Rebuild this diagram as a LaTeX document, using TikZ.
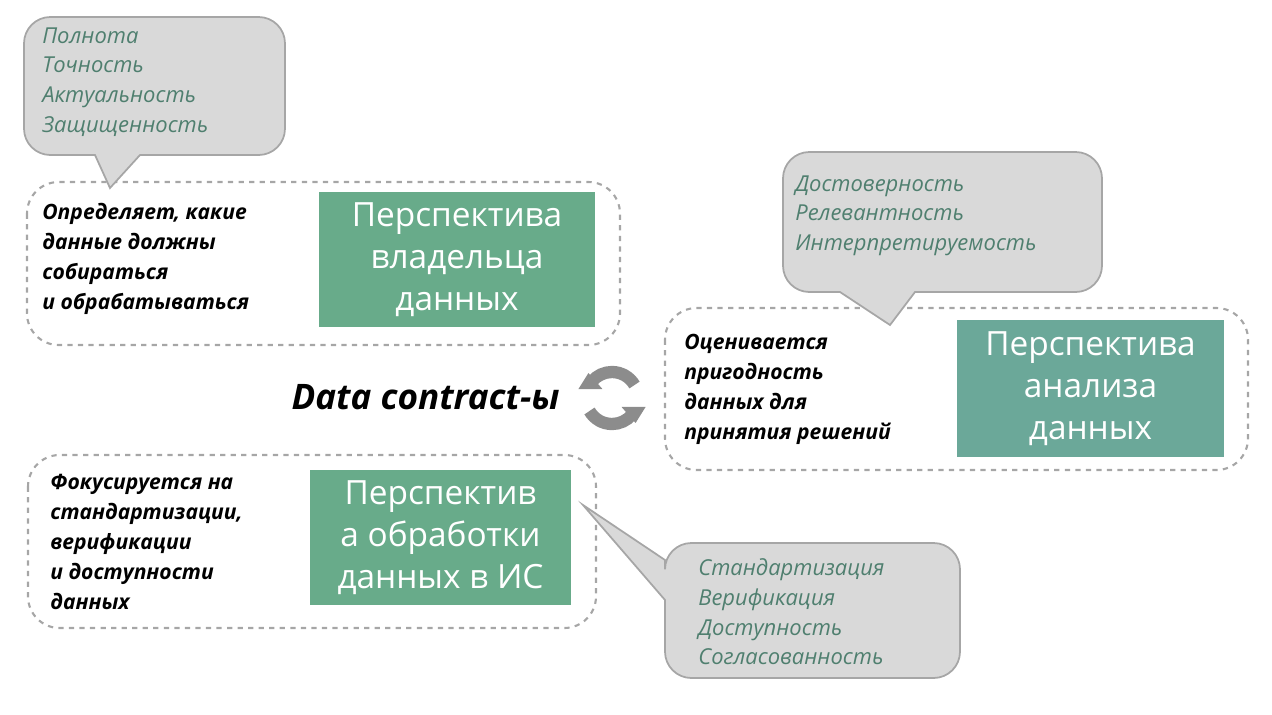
\documentclass[tikz,border=0pt]{standalone}
\usepackage{fontspec}
\setmainfont{Open Sans}
\usetikzlibrary{positioning}
\definecolor{persgreen}{HTML}{68AB8A}
\definecolor{persgreenB}{HTML}{6BA899}
\definecolor{notegreen}{HTML}{4F7F6F}
\definecolor{callfill}{HTML}{D9D9D9}
\definecolor{callline}{HTML}{A6A6A6}
\tikzset{
  groupbox/.style={draw=callline, dashed, line width=1.2pt, rounded corners=18pt},
  persbox/.style={fill=persgreen, text=white, align=center, font=\fontsize{19}{24}\selectfont, inner sep=0pt},
  desctext/.style={anchor=north west, align=left, font=\bfseries\itshape\fontsize{12}{17}\selectfont, inner sep=0pt},
  notetext/.style={anchor=north west, align=left, text=notegreen, font=\itshape\fontsize{12.5}{17}\selectfont, inner sep=0pt},
  callout/.style={fill=callfill, draw=callline, line width=1pt}
}
\begin{document}
\begin{tikzpicture}[x=0.02cm, y=-0.02cm]
\useasboundingbox (0,0) rectangle (1272,714);

% owner perspective
\draw[groupbox] (27,182) rectangle (620,345);
\node[persbox, minimum width=276*0.02cm, minimum height=135*0.02cm] (owner) at (457,259.5) {Перспектива\\владельца\\данных};
\node[desctext] (ownerText) at (42,203) {Определяет, какие\\данные должны\\собираться\\и обрабатываться};
\draw[callout] (95,155) [rounded corners=15pt] -- (24,155) -- (24,17) -- (285,17) -- (285,155) [sharp corners] -- (140,155) -- (110,188) -- cycle;
\node[notetext] (ownerNote) at (42,27) {Полнота\\Точность\\Актуальность\\Защищенность};

% analysis perspective
\draw[groupbox] (665,308) rectangle (1248,470);
\node[persbox, fill=persgreenB, minimum width=267*0.02cm, minimum height=137*0.02cm] (analysis) at (1090.5,388.5) {Перспектива\\анализа\\данных};
\node[desctext] (analysisText) at (684,334) {Оценивается\\пригодность\\данных для\\принятия решений};
\draw[callout] (840,292) [rounded corners=15pt] -- (783,292) -- (783,152) -- (1102,152) -- (1102,292) [sharp corners] -- (915,292) -- (890,325) -- cycle;
\node[notetext] (analysisNote) at (795,175) {Достоверность\\Релевантность\\Интерпретируемость};

% processing perspective
\draw[groupbox] (28,455) rectangle (596,628);
\node[persbox, minimum width=261*0.02cm, minimum height=135*0.02cm] (processing) at (440.5,537.5) {Перспектив\\а обработки\\данных в ИС};
\node[desctext] (processingText) at (50,474) {Фокусируется на\\стандартизации,\\верификации\\и доступности\\данных};
\draw[callout] (665,600) [rounded corners=15pt] -- (665,678) -- (960,678) -- (960,543) -- (665,543) [sharp corners] -- (665,560) -- (583,505) -- cycle;
\node[notetext] (processingNote) at (698,558) {Стандартизация\\Верификация\\Доступность\\Согласованность};

% center
\node[font=\bfseries\itshape\fontsize{20}{24}\selectfont, anchor=east, inner sep=0pt] (contract) at (560,397) {Data contract-ы};
\coordinate (icon) at (612,398);
\draw[line width=7pt, draw=gray!90] ([shift={(150:26)}]icon) arc[start angle=150, end angle=40, radius=26];
\fill[gray!90] ([shift={(25:26)}]icon) ++(-14,-2) -- ++(24,0) -- ++(-10,16) -- cycle;
\draw[line width=7pt, draw=gray!90] ([shift={(330:26)}]icon) arc[start angle=330, end angle=220, radius=26];
\fill[gray!90] ([shift={(205:26)}]icon) ++(14,2) -- ++(-24,0) -- ++(10,-16) -- cycle;
\end{tikzpicture}
\end{document}
